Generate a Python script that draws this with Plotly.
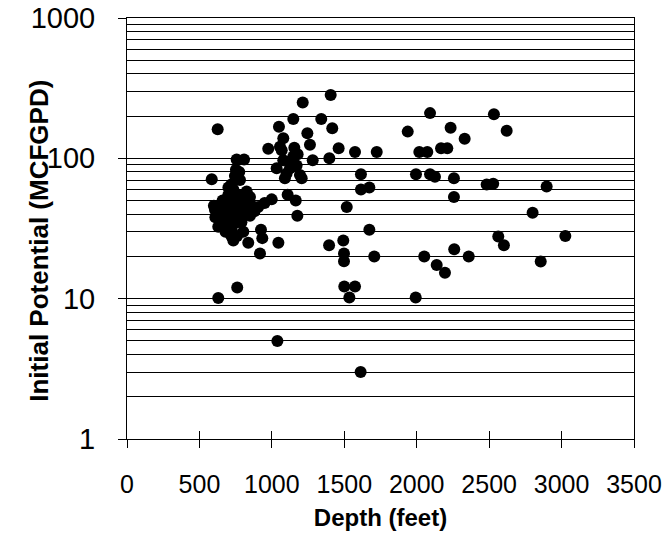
import plotly.graph_objects as go

# Well depth (feet) and initial potential (MCFGPD) for each well
depth_ft = [
    626, 1406, 1213, 1148, 1341, 1049, 1417, 1245, 1079, 1263, 1155, 975, 1461,
    1068, 1178, 1282, 1397, 757, 808, 1033, 1102, 1206, 1137, 1171, 585, 752,
    780, 999, 1109, 1165, 1176, 1517, 1148, 1056, 1079, 1125, 1194, 1090,
    2092, 2533, 1938, 2234, 2621, 2331, 1574, 1724, 2018, 2073, 2168, 2211,
    1615, 1615, 1673, 1995, 2092, 2126, 2257, 2257, 2483, 2528, 2897, 2800,
    1673, 1493, 2563, 3026, 1498, 1498, 1395, 1707, 2052, 2138, 2195, 2259,
    2359, 2602, 2856, 1500, 1574, 1535, 1993, 1613, 630, 761, 1038,
    837, 918, 934, 925, 1045,
    734, 826, 700, 711, 619, 677, 780, 906, 642, 734, 849, 642, 723, 803,
    849, 607, 665, 630, 660, 700, 690, 750, 760, 720, 800, 680, 760, 700,
    650, 740, 790, 820, 860, 880, 650, 770, 720, 745, 775, 680, 720, 760,
    734, 950, 610, 640, 670, 700, 790, 830, 600,
]
initial_potential = [
    161, 283, 250, 191, 191, 168, 164, 151, 139, 125, 119, 117, 118,
    114, 107, 97, 100, 98, 98, 85, 78, 72, 97, 89, 71, 83,
    70, 51, 55, 50, 39, 45, 103, 121, 97, 85, 76, 72,
    210, 206, 155, 165, 157, 138, 111, 111, 111, 111, 118, 118,
    77, 60, 62, 77, 77, 74, 72, 53, 65, 66, 63, 41,
    31, 26, 27.7, 28, 21, 18.5, 24, 20, 20, 17.4, 15.3, 22.5,
    20, 24, 18.4, 12.2, 12.2, 10.2, 10.2, 3.0, 10.1, 12.0, 5.0,
    25, 21, 27, 31, 25,
    60, 58, 55, 58, 44, 46, 46, 45, 37, 37, 39, 33, 31, 30,
    53, 43, 36, 32.6, 50, 45, 40, 50, 42, 52, 52, 34, 35, 38,
    42, 45, 40, 45, 46, 42, 47, 55, 65, 75, 80, 30, 28, 28,
    26, 48, 38, 40, 50, 62, 35, 52, 46,
]

x_ticks = [0, 500, 1000, 1500, 2000, 2500, 3000, 3500]
y_ticks = [1, 10, 100, 1000]
y_tick_text = ["1", "10", "100", "1000"]

FONT = "Liberation Sans, Arial, sans-serif"

fig = go.Figure()
fig.add_trace(go.Scatter(
    x=depth_ft, y=initial_potential, mode="markers",
    marker=dict(color="black", size=12, line=dict(width=0)),
    showlegend=False, hoverinfo="x+y",
))
# Invisible companion trace so the second x axis (upward tick halves) is drawn
fig.add_trace(go.Scatter(
    x=[x_ticks[0], x_ticks[-1]], y=[y_ticks[0], y_ticks[-1]], xaxis="x2",
    mode="markers", marker=dict(opacity=0), showlegend=False, hoverinfo="skip",
))

fig.update_layout(
    width=669, height=548,
    margin=dict(l=127, r=35, t=18, b=109),
    paper_bgcolor="white", plot_bgcolor="white",
    font=dict(family=FONT, color="black"),
    xaxis=dict(
        range=[0, 3500], tickvals=x_ticks, automargin=False,
        ticks="outside", ticklen=8, tickwidth=1, tickcolor="black",
        showgrid=False, zeroline=False,
        showline=True, linecolor="black", linewidth=1, mirror=True,
        tickfont=dict(size=25, family=FONT),
        ticklabelstandoff=15,
        title=dict(text="<b>Depth (feet)</b>", font=dict(size=24, family=FONT), standoff=12),
    ),
    xaxis2=dict(
        range=[0, 3500], tickvals=x_ticks, overlaying="x", side="bottom",
        ticks="inside", ticklen=8, tickwidth=1, tickcolor="black", automargin=False,
        showticklabels=False, showgrid=False, zeroline=False, showline=False,
    ),
    yaxis=dict(
        type="log", range=[0, 3], automargin=False,
        tickvals=y_ticks, ticktext=y_tick_text,
        ticks="outside", ticklen=8, tickwidth=1, tickcolor="black",
        showgrid=True, gridcolor="black", gridwidth=1,
        minor=dict(dtick="D1", showgrid=True, gridcolor="black", gridwidth=1, ticks=""),
        zeroline=False,
        showline=True, linecolor="black", linewidth=1, mirror=True,
        tickfont=dict(size=29, family=FONT),
        ticklabelstandoff=17,
    ),
    annotations=[dict(
        text="<b>Initial Potential (MCFGPD)</b>", textangle=-90,
        xref="paper", yref="paper", x=-0.175, y=0.5, yshift=-12,
        xanchor="center", yanchor="middle", showarrow=False,
        font=dict(size=26, family=FONT),
    )],
)

fig.write_html("out.html")
